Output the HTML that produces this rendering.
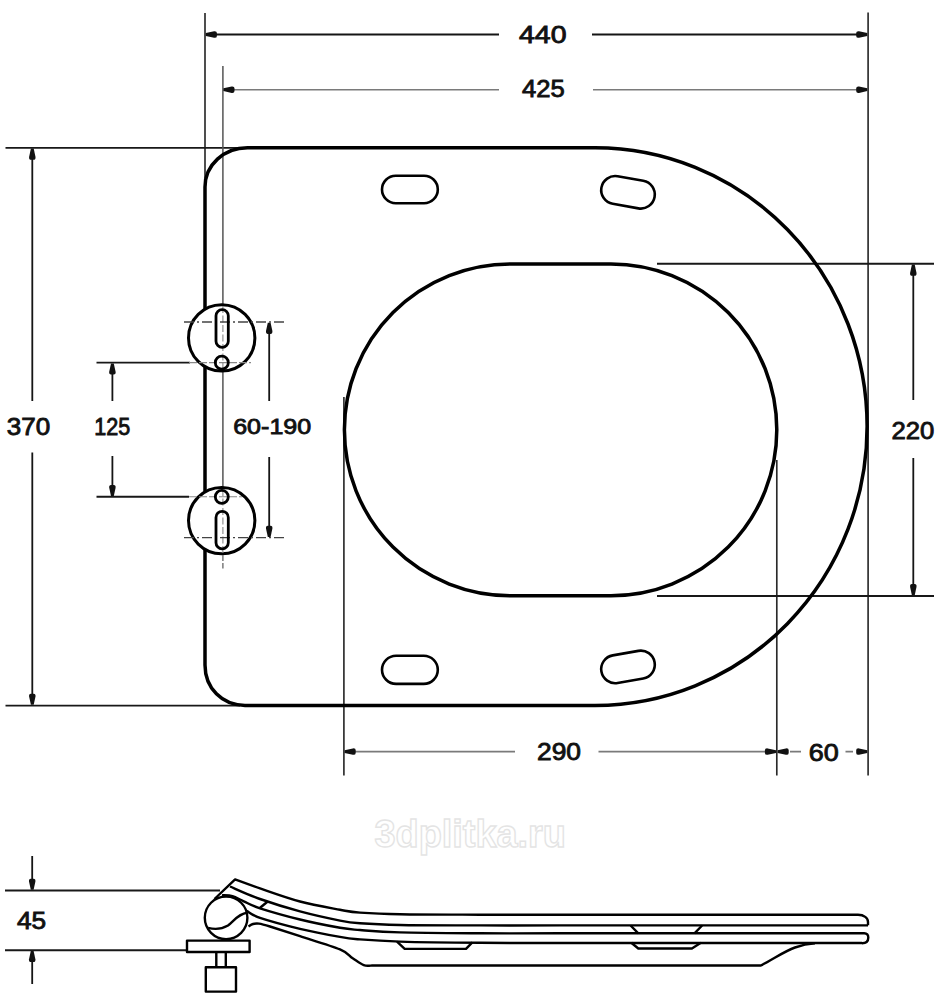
<!DOCTYPE html>
<html><head><meta charset="utf-8"><title>Seat drawing</title>
<style>
html,body{margin:0;padding:0;background:#fff;}
svg{display:block;}
.t{font-family:"Liberation Sans",sans-serif;font-size:23.6px;fill:#111;stroke:#111;stroke-width:0.85px;}
.wm{font-family:"Liberation Sans",sans-serif;fill:none;stroke:#e4e4e4;stroke-width:1.4px;}
</style></head>
<body>
<svg width="940" height="1000" viewBox="0 0 940 1000">
<defs>
  <path id="ah" d="M-1.4 0L1.4 0L3.2 8.3Q3.5 11.1 1.4 11.1L-1.4 11.1Q-3.5 11.1-3.2 8.3Z" fill="#111"/>
</defs>

<!-- ===== extension lines ===== -->
<g fill="none" stroke="#2a2a2a" stroke-width="1.65">
  <path d="M205 13V178"/>
  <path d="M868.1 12.5V775.5"/>
  <path d="M343.9 397V775.5M776.8 460V775.5"/>
</g>
<g fill="none" stroke="#181818" stroke-width="1.9">
  <path d="M5.5 147.9H240M5.5 705.6H240"/>
  <path d="M657 263.8H934M657 596H934"/>
  <path d="M5 890.5H220M5 950.3H187"/>
  <path d="M96.5 362.6H190M96.5 496.8H189"/>
</g>
<!-- centre line of hinges -->
<path d="M222.9 66V305M222.9 371V488" fill="none" stroke="#555" stroke-width="1.5"/>
<!-- dark dimension lines -->
<g fill="none" stroke="#151515" stroke-width="1.8">
  <path d="M207 34.5H499M592 34.5H866"/>
  <path d="M32.3 150V401M32.3 452.5V703"/>
  <path d="M112.4 365V401M112.4 456V494.5"/>
  <path d="M269.2 324V401M269.2 457V535.5"/>
  <path d="M913.3 266V400M913.3 458V594"/>
  <path d="M32.2 856V888M32.2 953V984"/>
</g>
<!-- grey dimension lines -->
<g fill="none" stroke="#7a7a7a" stroke-width="1.6">
  <path d="M224 89.7H499M593 89.7H866"/>
  <path d="M346 751.6H515M598.5 751.6H775"/>
  <path d="M790 751.6H801M845.5 751.6H853"/>
</g>
<!-- arrowheads -->
<g>
  <use href="#ah" transform="translate(205.8 34.5) rotate(-90)"/>
  <use href="#ah" transform="translate(867.3 34.5) rotate(90)"/>
  <use href="#ah" transform="translate(223.4 89.7) rotate(-90)"/>
  <use href="#ah" transform="translate(867.3 89.7) rotate(90)"/>
  <use href="#ah" transform="translate(32.3 148.6)"/>
  <use href="#ah" transform="translate(32.3 704.8) rotate(180)"/>
  <use href="#ah" transform="translate(112.4 363.4)"/>
  <use href="#ah" transform="translate(112.4 496.1) rotate(180)"/>
  <use href="#ah" transform="translate(269.2 322.8)"/>
  <use href="#ah" transform="translate(269.2 536.9) rotate(180)"/>
  <use href="#ah" transform="translate(913.3 264.6)"/>
  <use href="#ah" transform="translate(913.3 595.2) rotate(180)"/>
  <use href="#ah" transform="translate(344.6 751.6) rotate(-90)"/>
  <use href="#ah" transform="translate(776 751.6) rotate(90)"/>
  <use href="#ah" transform="translate(777.6 751.6) rotate(-90)"/>
  <use href="#ah" transform="translate(867.3 751.6) rotate(90)"/>
  <use href="#ah" transform="translate(32.2 889.8) rotate(180)"/>
  <use href="#ah" transform="translate(32.2 951)"/>
</g>

<!-- ===== seat top view ===== -->
<g fill="none" stroke="#000" stroke-width="3.5" stroke-linejoin="round">
  <path d="M247.5 147.8H595A272.2 278.8 0 0 1 595 705.4H245C222 705.4 205 688 205 665V187C205 165 224 147.8 247.5 147.8Z"/>
  <rect x="344.4" y="263.9" width="432.4" height="331.8" rx="165.9" ry="165.9"/>
</g>
<!-- slots -->
<g fill="none" stroke="#000" stroke-width="2.6">
  <rect x="382" y="175.7" width="55.8" height="27.5" rx="13.75"/>
  <rect x="382" y="655.7" width="55.8" height="28.2" rx="14.1"/>
  <rect x="601" y="178.3" width="54" height="28" rx="14" transform="rotate(10 628 192.3)"/>
  <rect x="601" y="652.9" width="54" height="28" rx="14" transform="rotate(-10 628 666.9)"/>
</g>
<!-- hinges -->
<g fill="#fff" stroke="#000" stroke-width="3">
  <circle cx="221.7" cy="337.9" r="33.2"/>
  <circle cx="221.7" cy="520.6" r="33.2"/>
</g>
<!-- centre line / ext lines inside hinges (lighter) -->
<g fill="none" stroke="#888" stroke-width="1.1">
  <path d="M222.9 306V370M222.9 489V553" stroke-dasharray="7 2.5"/>
  <path d="M189 362.6H251M189 496.8H242" stroke-dasharray="8 2"/>
</g>
<path d="M222.9 555V568.5" fill="none" stroke="#666" stroke-width="1.3" stroke-dasharray="6 2"/>
<g fill="none" stroke="#444" stroke-width="1.3" stroke-dasharray="10 3 2 3">
  <path d="M184 322H284M184 537.6H284"/>
</g>
<g fill="none" stroke="#000" stroke-width="2.8">
  <rect x="216" y="309.6" width="12.3" height="37.7" rx="6.15"/>
  <circle cx="221.8" cy="362.7" r="6.5"/>
  <rect x="216" y="511.3" width="12.3" height="37.5" rx="6.15"/>
  <circle cx="221.8" cy="496.8" r="6.5"/>
</g>

<!-- ===== side view ===== -->
<g fill="none" stroke="#000" stroke-width="2.4" stroke-linejoin="round">
  <!-- hinge ball -->
  <circle cx="226.1" cy="917.8" r="21.3" fill="#fff"/>
  <path d="M208 927.8C214 929.5 222 929 228 925.5C234 921 238 914 247 912.8"/>
  <!-- plate, stem, block -->
  <rect x="187" y="940.6" width="62.6" height="11.4" fill="#fff"/>
  <path d="M216.3 952.2V967M225.8 952.2V967"/>
  <rect x="205.8" y="967.2" width="30.2" height="24.4"/>
  <!-- lid / seat profile -->
  <path d="M214.5 899L235.1 879.4C239.2 880.9 249.2 884.7 260.0 888.4C270.8 892.1 286.7 897.9 300.0 901.5C313.3 905.1 330.0 907.9 340.0 909.8C350.0 911.6 350.0 911.9 360.0 912.6C370.0 913.3 380.0 913.9 400.0 914.2C420.0 914.6 453.3 914.6 480.0 914.7C506.7 914.8 546.7 914.8 560.0 914.8H858C864 914.8 868 918 868 922V925.3"/>
  <path d="M230.0 886.5C235.0 888.6 248.3 894.9 260.0 899.0C271.7 903.1 286.7 907.8 300.0 911.4C313.3 915.0 330.0 918.6 340.0 920.6C350.0 922.6 350.0 922.6 360.0 923.3C370.0 924.0 380.0 924.6 400.0 925.0C420.0 925.4 453.3 925.3 480.0 925.4C506.7 925.5 546.7 925.4 560.0 925.4H868"/>
  <path d="M222.0 895.2C223.8 895.4 228.9 895.2 232.5 896.2C236.1 897.2 239.2 899.3 243.8 901.3C248.4 903.3 250.6 905.3 260.0 908.3C269.4 911.3 286.7 916.2 300.0 919.5C313.3 922.8 330.0 926.0 340.0 927.8C350.0 929.5 350.0 929.2 360.0 930.0C370.0 930.8 380.0 931.9 400.0 932.4C420.0 932.9 453.3 933.1 480.0 933.3C506.7 933.4 546.7 933.3 560.0 933.3H864C867 933.2 868.3 935 868.3 937.5C868.3 941 866 943.2 862 943.2"/>
  <path d="M246.8 910.9C249.0 912.0 251.1 914.8 260.0 917.8C268.9 920.8 286.7 925.6 300.0 928.8C313.3 932.0 330.0 935.1 340.0 936.9C350.0 938.7 350.0 938.6 360.0 939.4C370.0 940.2 380.0 941.0 400.0 941.6C420.0 942.2 453.3 942.6 480.0 942.8C506.7 943.0 546.7 943.0 560.0 943.0H862"/>
  <path d="M248.5 926.5C249.2 926.1 251.2 924.5 253.0 924.0C254.8 923.5 256.2 923.2 259.0 923.6C261.8 924.0 263.2 924.4 270.0 926.5C276.8 928.6 288.3 932.4 300.0 936.2C311.7 940.0 331.2 945.7 340.0 949.4C348.8 953.1 348.7 955.7 352.7 958.3C356.7 960.9 360.6 964.0 363.8 965.2C367.0 966.4 370.6 965.5 372.0 965.5H760.9C775 958 785 951 795 947.5C803 944.5 810 943.5 815 943.2"/>
  <path d="M397 941.6L404.7 948.9H466L472.3 942.4"/>
  <path d="M631.3 942.8L638.3 948.5H691.9L700.9 942.8"/>
  <!-- small tick and recess on lid -->
  <path d="M259.5 908.2L267.7 901.5"/>
  <path d="M630.6 925.5L638.3 933.3M694.5 933.3L702.1 925.5"/>
</g>

<!-- ===== texts ===== -->
<g class="t">
  <text class="t" x="519" y="43.4" textLength="47.5" lengthAdjust="spacingAndGlyphs">440</text>
  <text class="t" x="522" y="96.8" textLength="42.7" lengthAdjust="spacingAndGlyphs">425</text>
  <text class="t" x="6.8" y="434.9" textLength="43.4" lengthAdjust="spacingAndGlyphs">370</text>
  <text class="t" x="94.3" y="434.9" textLength="36" lengthAdjust="spacingAndGlyphs">125</text>
  <text class="t" x="233.2" y="434.4" style="font-size:22.6px" textLength="78" lengthAdjust="spacingAndGlyphs">60-190</text>
  <text class="t" x="891.6" y="438.9" textLength="42.8" lengthAdjust="spacingAndGlyphs">220</text>
  <text class="t" x="537" y="759.6" textLength="44" lengthAdjust="spacingAndGlyphs">290</text>
  <text class="t" x="808.7" y="760.9" textLength="30" lengthAdjust="spacingAndGlyphs">60</text>
  <text class="t" x="16.9" y="928.7" textLength="29.2" lengthAdjust="spacingAndGlyphs">45</text>
</g>
<!-- watermark -->
<text class="wm" x="374.5" y="847.4" font-size="39.5" font-weight="bold" textLength="191.5" lengthAdjust="spacingAndGlyphs">3dplitka.ru</text>
</svg>
</body></html>
